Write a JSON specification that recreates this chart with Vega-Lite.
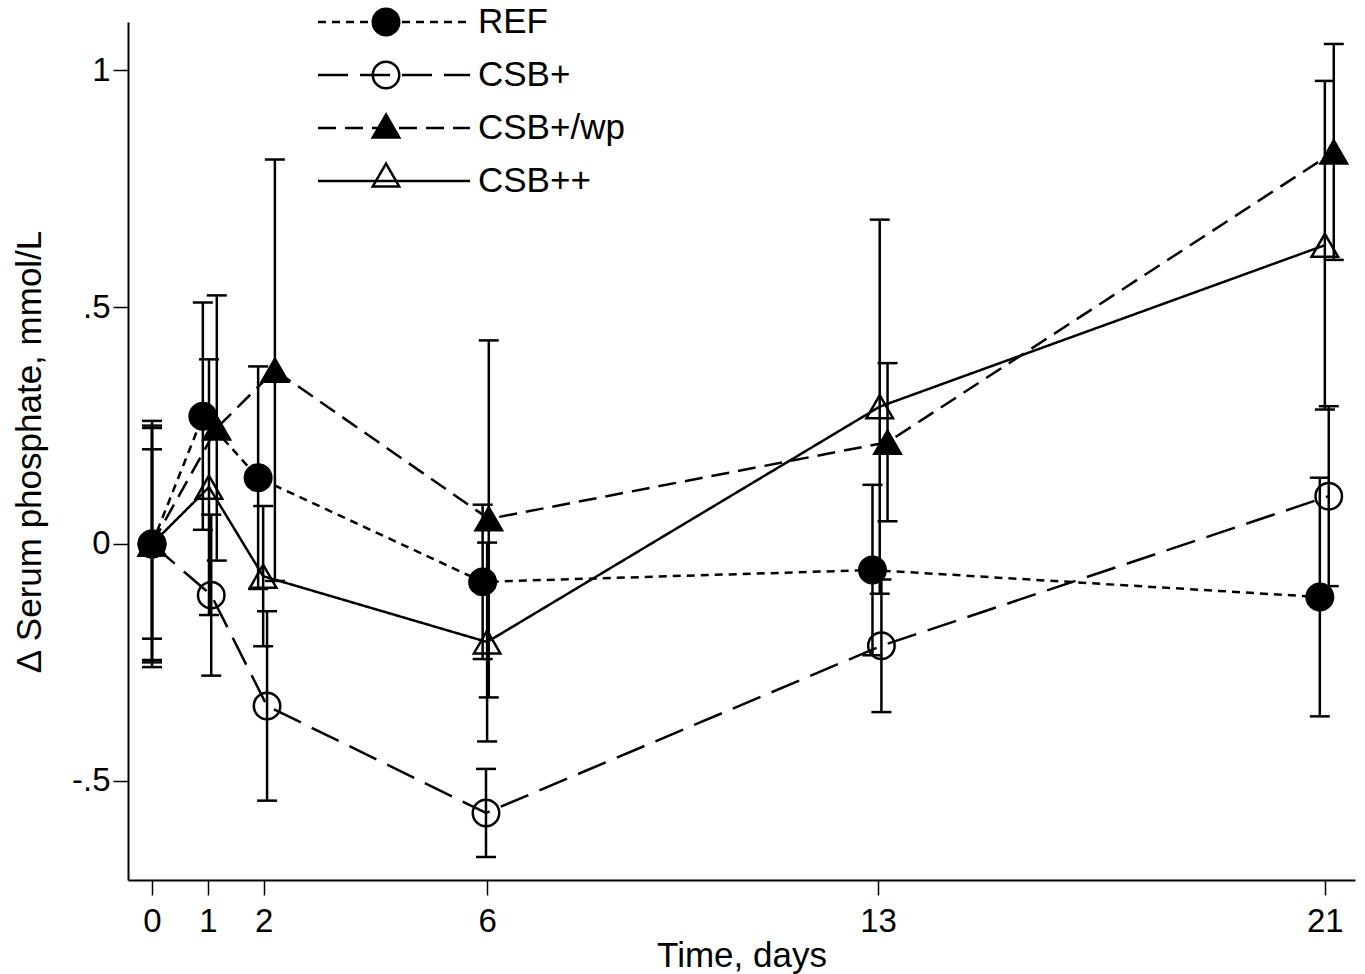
{
  "$schema": "https://vega.github.io/schema/vega-lite/v6.json",
  "width": 1227,
  "height": 858,
  "autosize": {"type": "none"},
  "padding": {"left": 128, "top": 22, "right": 10, "bottom": 94},
  "background": "white",
  "config": {
    "view": {"stroke": null},
    "font": "Liberation Sans",
    "axis": {
      "labelColor": "black", "titleColor": "black", "domainColor": "black", "tickColor": "black",
      "labelFontSize": 33, "titleFontSize": 35, "titleFontWeight": "normal",
      "labelFont": "Liberation Sans", "titleFont": "Liberation Sans",
      "grid": false, "tickSize": 15, "tickWidth": 1.5, "domainWidth": 2
    }
  },
  "data": {
    "values": [
      {"group": "REF", "t": 0, "mean": 0, "lo": -0.25, "hi": 0.25},
      {"group": "REF", "t": 0.91, "mean": 0.27, "lo": 0.03, "hi": 0.51},
      {"group": "REF", "t": 1.9, "mean": 0.14, "lo": -0.095, "hi": 0.375},
      {"group": "REF", "t": 5.92, "mean": -0.08, "lo": -0.243, "hi": 0.083},
      {"group": "REF", "t": 12.9, "mean": -0.055, "lo": -0.235, "hi": 0.125},
      {"group": "REF", "t": 20.91, "mean": -0.112, "lo": -0.364, "hi": 0.14},
      {"group": "CSB+", "t": 0, "mean": 0, "lo": -0.26, "hi": 0.26},
      {"group": "CSB+", "t": 1.06, "mean": -0.108, "lo": -0.278, "hi": 0.062},
      {"group": "CSB+", "t": 2.06, "mean": -0.342, "lo": -0.542, "hi": -0.142},
      {"group": "CSB+", "t": 5.98, "mean": -0.568, "lo": -0.661, "hi": -0.475},
      {"group": "CSB+", "t": 13.06, "mean": -0.215, "lo": -0.355, "hi": -0.075},
      {"group": "CSB+", "t": 21.07, "mean": 0.101, "lo": -0.089, "hi": 0.291},
      {"group": "CSB+/wp", "t": 0, "mean": 0, "lo": -0.2, "hi": 0.2},
      {"group": "CSB+/wp", "t": 1.16, "mean": 0.245, "lo": -0.035, "hi": 0.525},
      {"group": "CSB+/wp", "t": 2.2, "mean": 0.367, "lo": -0.078, "hi": 0.812},
      {"group": "CSB+/wp", "t": 6.03, "mean": 0.053, "lo": -0.324, "hi": 0.43},
      {"group": "CSB+/wp", "t": 13.17, "mean": 0.215, "lo": 0.048, "hi": 0.382},
      {"group": "CSB+/wp", "t": 21.16, "mean": 0.828, "lo": 0.6, "hi": 1.056},
      {"group": "CSB++", "t": 0, "mean": 0, "lo": -0.245, "hi": 0.245},
      {"group": "CSB++", "t": 1.02, "mean": 0.12, "lo": -0.15, "hi": 0.39},
      {"group": "CSB++", "t": 1.99, "mean": -0.068, "lo": -0.216, "hi": 0.08},
      {"group": "CSB++", "t": 6.0, "mean": -0.207, "lo": -0.417, "hi": 0.003},
      {"group": "CSB++", "t": 13.03, "mean": 0.29, "lo": -0.105, "hi": 0.685},
      {"group": "CSB++", "t": 21.0, "mean": 0.631, "lo": 0.284, "hi": 0.978}
    ]
  },
  "encoding": {
    "x": {
      "field": "t", "type": "quantitative",
      "scale": {"domain": [-0.43, 21.54], "nice": false, "zero": false},
      "axis": {"values": [0, 1, 2, 6, 13, 21], "title": "Time, days", "labelPadding": 10, "titlePadding": 0}
    }
  },
  "layer": [
    {
      "mark": {"type": "rule", "color": "black", "strokeWidth": 2.5},
      "encoding": {
        "y": {
          "field": "lo", "type": "quantitative",
          "scale": {"domain": [-0.7096, 1.1024], "nice": false, "zero": false},
          "axis": {
            "values": [-0.5, 0, 0.5, 1],
            "labelExpr": "datum.value == 0.5 ? '.5' : datum.value == -0.5 ? '-.5' : datum.value == 1 ? '1' : '0'",
            "title": "∆ Serum phosphate, mmol/L", "labelPadding": 3, "titlePadding": 24
          }
        },
        "y2": {"field": "hi"}
      }
    },
    {
      "mark": {"type": "tick", "orient": "horizontal", "color": "black", "size": 20, "thickness": 2.5, "opacity": 1},
      "encoding": {"y": {"field": "lo", "type": "quantitative"}}
    },
    {
      "mark": {"type": "tick", "orient": "horizontal", "color": "black", "size": 20, "thickness": 2.5, "opacity": 1},
      "encoding": {"y": {"field": "hi", "type": "quantitative"}}
    },
    {
      "mark": {"type": "line", "color": "black", "strokeWidth": 2.5},
      "encoding": {
        "y": {"field": "mean", "type": "quantitative"},
        "strokeDash": {
          "field": "group", "type": "nominal",
          "sort": ["REF", "CSB+", "CSB+/wp", "CSB++"],
          "scale": {"range": [[8, 6], [30, 12], [18, 9], [1, 0]]},
          "legend": {
            "orient": "none", "legendX": 190, "legendY": -17.5, "title": null, "padding": 0,
            "symbolType": "M-7.6,0H7.6", "symbolSize": 400, "symbolStrokeWidth": 2.5, "symbolStrokeColor": "black",
            "symbolOffset": 58.5, "labelOffset": 66.5, "labelFontSize": 35, "labelFont": "Liberation Sans",
            "labelColor": "black", "rowPadding": 17
          }
        }
      }
    },
    {
      "mark": {"type": "point", "strokeWidth": 2.5, "size": 700, "opacity": 1},
      "encoding": {
        "y": {"field": "mean", "type": "quantitative"},
        "shape": {
          "field": "group", "type": "nominal",
          "scale": {"domain": ["REF", "CSB+", "CSB+/wp", "CSB++"], "range": ["circle", "circle", "triangle-up", "triangle-up"]},
          "legend": {
            "orient": "none", "legendX": 190, "legendY": -15, "title": null, "padding": 0,
            "symbolSize": 700, "symbolStrokeWidth": 2.5,
            "symbolOffset": 53, "labelOffset": 130, "labelFontSize": 30, "labelExpr": "''",
            "rowPadding": 15
          }
        },
        "fill": {
          "field": "group", "type": "nominal",
          "scale": {"domain": ["REF", "CSB+", "CSB+/wp", "CSB++"], "range": ["black", "transparent", "black", "transparent"]},
          "legend": {
            "orient": "none", "legendX": 190, "legendY": -15, "title": null, "padding": 0,
            "symbolSize": 700, "symbolStrokeWidth": 2.5,
            "symbolOffset": 53, "labelOffset": 130, "labelFontSize": 30, "labelExpr": "''",
            "rowPadding": 15
          }
        },
        "stroke": {
          "field": "group", "type": "nominal",
          "scale": {"domain": ["REF", "CSB+", "CSB+/wp", "CSB++"], "range": ["black", "black", "black", "black"]},
          "legend": {
            "orient": "none", "legendX": 190, "legendY": -15, "title": null, "padding": 0,
            "symbolSize": 700, "symbolStrokeWidth": 2.5,
            "symbolOffset": 53, "labelOffset": 130, "labelFontSize": 30, "labelExpr": "''",
            "rowPadding": 15
          }
        }
      }
    }
  ]
}
